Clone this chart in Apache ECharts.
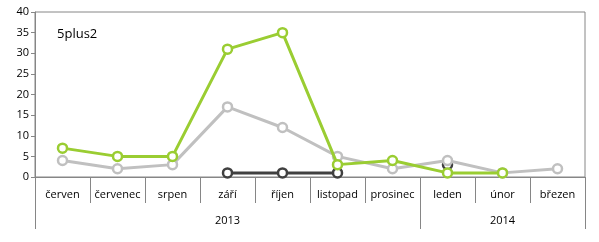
<!DOCTYPE html>
<html><head><meta charset="utf-8">
<script src="https://cdn.jsdelivr.net/npm/echarts@6/dist/echarts.min.js"></script>
<style>html,body{margin:0;padding:0;background:#fff}#c{width:599px;height:242px}</style>
</head><body><div id="c"></div>
<script>
const months = ['červen','červenec','srpen','září','říjen','listopad','prosinec','leden','únor','březen'];
const yearLabels = ['','','','2013','','','','','2014',''];
const yearStartIdx = [0, 7];
const green = [7,5,5,31,35,3,4,1,1,null];
const gray = [4,2,3,17,12,5,2,4,1,2];
const dark = [null,null,null,1,1,1,null,3,null,null];
const yTicks = {min:0, max:40, step:5};
const titleText = '5plus2';

const font = 'Open Sans, DejaVu Sans, sans-serif';
const chart = echarts.init(document.getElementById('c'));
function ser(data, color, z){
  return {type:'line', data, z, symbol:'circle', symbolSize:9, showSymbol:true,
    lineStyle:{color, width:3}, itemStyle:{color:'#fff', borderColor:color, borderWidth:2.5},
    connectNulls:false, animation:false};
}
chart.setOption({
  animation:false,
  title:{text:titleText, left:52, top:23, textStyle:{fontFamily:font, fontSize:13, fontWeight:'normal', color:'#000'}},
  grid:{left:35, right:14, top:12, bottom:65, show:true, borderColor:'#868686', borderWidth:1},
  xAxis:[
    {type:'category', data:months, boundaryGap:true,
     axisLine:{lineStyle:{color:'#868686'}},
     axisTick:{show:true, length:26, interval:0, lineStyle:{color:'#868686'}},
     axisLabel:{interval:0, margin:12, fontFamily:font, fontSize:11, color:'#000'}},
    {type:'category', data:yearLabels, boundaryGap:true, position:'bottom', offset:26,
     axisLine:{show:false},
     axisTick:{show:true, length:26, interval:(i)=>yearStartIdx.includes(i), lineStyle:{color:'#868686'}},
     axisLabel:{interval:0, margin:12, fontFamily:font, fontSize:11, color:'#000'}}
  ],
  yAxis:{type:'value', min:yTicks.min, max:yTicks.max, interval:yTicks.step,
    axisLine:{show:true, lineStyle:{color:'#868686'}},
    axisTick:{show:true, length:4, lineStyle:{color:'#868686'}},
    splitLine:{show:false},
    axisLabel:{margin:6, fontFamily:font, fontSize:11, color:'#000'}},
  series:[ser(dark,'#404040',2), ser(gray,'#c0c0c0',3), ser(green,'#9acd32',4)]
});
</script></body></html>
